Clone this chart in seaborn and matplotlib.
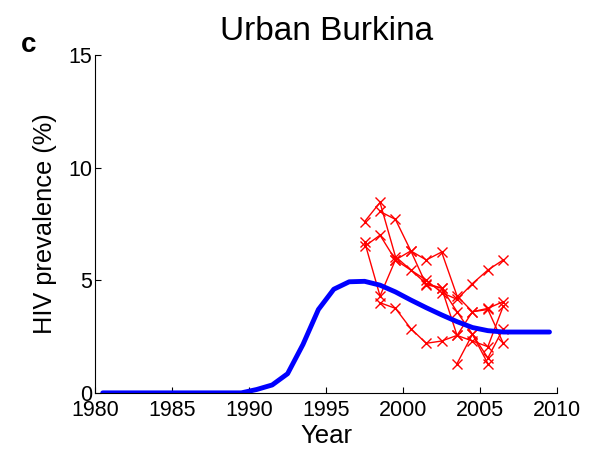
import numpy as np
import pandas as pd
import matplotlib
matplotlib.use("Agg")
import matplotlib.pyplot as plt
import seaborn as sns

# model curve (blue)
model_years = [1980.5, 1981.5, 1982.5, 1983.5, 1984.5, 1985.5, 1986.5, 1987.5, 1988.5,
               1989.5, 1990.5, 1991.5, 1992.5, 1993.5, 1994.5, 1995.5, 1996.5, 1997.5,
               1998.5, 1999.5, 2000.5, 2001.5, 2002.5, 2003.5, 2004.5, 2005.5, 2006.5,
               2007.5, 2008.5, 2009.5]
model_prev = [0.0, 0.0, 0.0, 0.0, 0.0, 0.0, 0.0, 0.0, 0.0,
              0.0, 0.15, 0.35, 0.85, 2.15, 3.7, 4.6, 4.93, 4.95,
              4.78, 4.48, 4.12, 3.78, 3.46, 3.16, 2.9, 2.76, 2.7,
              2.7, 2.7, 2.7]

# survey data (red), one list per site
site1_years = [1997.5, 1998.5, 1999.5, 2000.5, 2001.5, 2002.5, 2003.5, 2004.5, 2005.5]
site1_prev = [7.6, 8.45, 6.05, 5.45, 4.85, 4.65, 3.6, 2.6, 1.3]
site2_years = [1998.5, 1999.5, 2000.5, 2001.5, 2002.5, 2003.5, 2004.5, 2005.5, 2006.5]
site2_prev = [8.05, 7.7, 6.3, 5.9, 6.25, 4.3, 3.6, 3.75, 4.05]
site3_years = [1997.5, 1998.5, 1999.5, 2001.5, 2002.5, 2003.5, 2004.5, 2005.5, 2006.5]
site3_prev = [6.5, 7.0, 5.9, 5.0, 4.45, 4.15, 4.85, 5.45, 5.9]
site4_years = [1997.5, 1998.5, 1999.5, 2000.5, 2001.5, 2002.5, 2003.5, 2004.5, 2005.5, 2006.5]
site4_prev = [6.7, 4.3, 5.9, 6.3, 4.8, 4.65, 2.55, 2.3, 2.05, 3.85]
site5_years = [1998.5, 1999.5, 2000.5, 2001.5, 2002.5, 2003.5, 2004.5, 2005.5, 2006.5]
site5_prev = [4.0, 3.75, 2.85, 2.2, 2.3, 2.55, 3.6, 3.7, 2.2]
site6_years = [2003.5, 2004.5, 2005.5, 2006.5]
site6_prev = [1.3, 2.6, 1.55, 2.85]

sites = [(site1_years, site1_prev), (site2_years, site2_prev), (site3_years, site3_prev),
         (site4_years, site4_prev), (site5_years, site5_prev), (site6_years, site6_prev)]

sns.set_style("white")
plt.rcParams['font.family'] = ['Liberation Sans', 'DejaVu Sans']
plt.rcParams['text.color'] = 'black'
plt.rcParams['axes.labelcolor'] = 'black'

fig = plt.figure(figsize=(5.94, 4.5), dpi=100)
ax = fig.add_axes([0.16, 0.127, 0.778, 0.751])

for yrs, prev in sites:
    sns.lineplot(x=yrs, y=prev, ax=ax, color='red', lw=1, marker='x',
                 markersize=6.5, markeredgecolor='red', markeredgewidth=1,
                 sort=False, estimator=None)

sns.lineplot(x=model_years, y=model_prev, ax=ax, color='blue', lw=3.5, sort=False,
             estimator=None)

ax.set_xlim(1980, 2010)
ax.set_ylim(0, 15)
ax.set_xticks([1980, 1985, 1990, 1995, 2000, 2005, 2010])
ax.set_yticks([0, 5, 10, 15])
ax.tick_params(direction='in', length=4, width=0.8, labelsize=15.5,
               bottom=True, left=True, colors='black')
ax.tick_params(axis='x', pad=5)
ax.tick_params(axis='y', pad=2)
for side in ['top', 'right']:
    ax.spines[side].set_visible(False)
for side in ['left', 'bottom']:
    ax.spines[side].set_color('black')
    ax.spines[side].set_linewidth(0.8)

ax.set_xlabel('Year', fontsize=18.5, labelpad=2, color='black')
ax.set_ylabel('HIV prevalence (%)', fontsize=18.3, labelpad=8, color='black')
ax.set_title('Urban Burkina', fontsize=24, pad=11, color='black')
fig.text(0.035, 0.9, 'c', fontsize=20, fontweight='bold', ha='left', va='center',
         color='black')

fig.savefig('out.png', dpi=100)
